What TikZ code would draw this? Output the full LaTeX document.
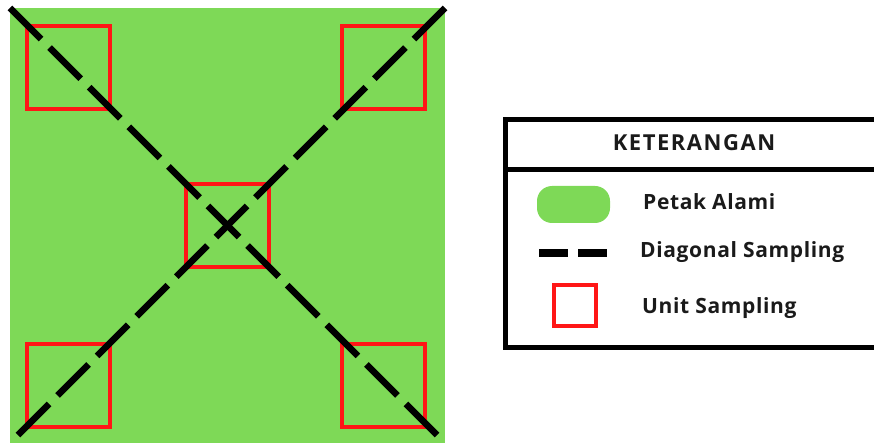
\documentclass[tikz,border=0pt]{standalone}
\usepackage{fontspec}
\setmainfont{Open Sans}
\definecolor{plotgreen}{HTML}{7ED957}
\definecolor{unitred}{HTML}{FF1616}
\definecolor{inkdark}{HTML}{1A1A1A}
\begin{document}
\begin{tikzpicture}[x=1pt,y=-1pt,
  unitbox/.style={draw=unitred, line width=4pt, minimum width=83pt, minimum height=83pt, inner sep=0pt, outer sep=0pt},
  diag/.style={line width=6.5pt, dash pattern=on 44pt off 12pt},
  legendtext/.style={anchor=base west, text=inkdark, font=\bfseries\fontsize{21}{24}\selectfont\addfontfeatures{LetterSpace=3}, inner sep=0pt},
  frame/.style={line width=5pt, line join=miter}]
\useasboundingbox (0,0) rectangle (874,443);
\clip (0,0) rectangle (874,443);

% plot area
\fill[plotgreen] (10,8) rectangle (445,443);
\coordinate (nw) at (10,8);
\coordinate (ne) at (445,8);
\coordinate (sw) at (10,443);
\coordinate (se) at (445,443);

% sampling units
\node[unitbox] (utl) at (68,67.5) {};
\node[unitbox] (utr) at (383.5,67.5) {};
\node[unitbox] (uc) at (227.5,225.5) {};
\node[unitbox] (ubl) at (68,385.5) {};
\node[unitbox] (ubr) at (383.5,385.5) {};

% diagonals
\draw[diag] (nw) -- (se);
\draw[diag] (ne) -- (sw);

% legend frame
\coordinate (ftr) at (884,120);
\coordinate (ftl) at (505,120);
\coordinate (fbl) at (505,347);
\coordinate (fbr) at (884,347);
\coordinate (dl) at (505,169.5);
\coordinate (dr) at (884,169.5);
\draw[frame] (ftr) -- (ftl) -- (fbl) -- (fbr);
\draw[frame] (dl) -- (dr);
\node[text=inkdark, font=\bfseries\fontsize{22}{25}\selectfont\addfontfeatures{LetterSpace=7}, inner sep=0pt] (title) at (694,143) {KETERANGAN};

% legend entries
\node[fill=plotgreen, rounded corners=15pt, minimum width=73pt, minimum height=37pt, inner sep=0pt] (kplot) at (573.5,204.5) {};
\coordinate (kdl) at (539,253);
\coordinate (kdr) at (607,253);
\draw[line width=8pt, dash pattern=on 29pt off 10pt] (kdl) -- (kdr);
\node[draw=unitred, line width=4pt, minimum width=42pt, minimum height=41pt, inner sep=0pt] (kunit) at (575,305.5) {};

\node[legendtext] (lplot) at (643,210) {Petak Alami};
\node[legendtext] (ldiag) at (640,258) {Diagonal Sampling};
\node[legendtext] (lunit) at (642,313) {Unit Sampling};
\end{tikzpicture}
\end{document}
